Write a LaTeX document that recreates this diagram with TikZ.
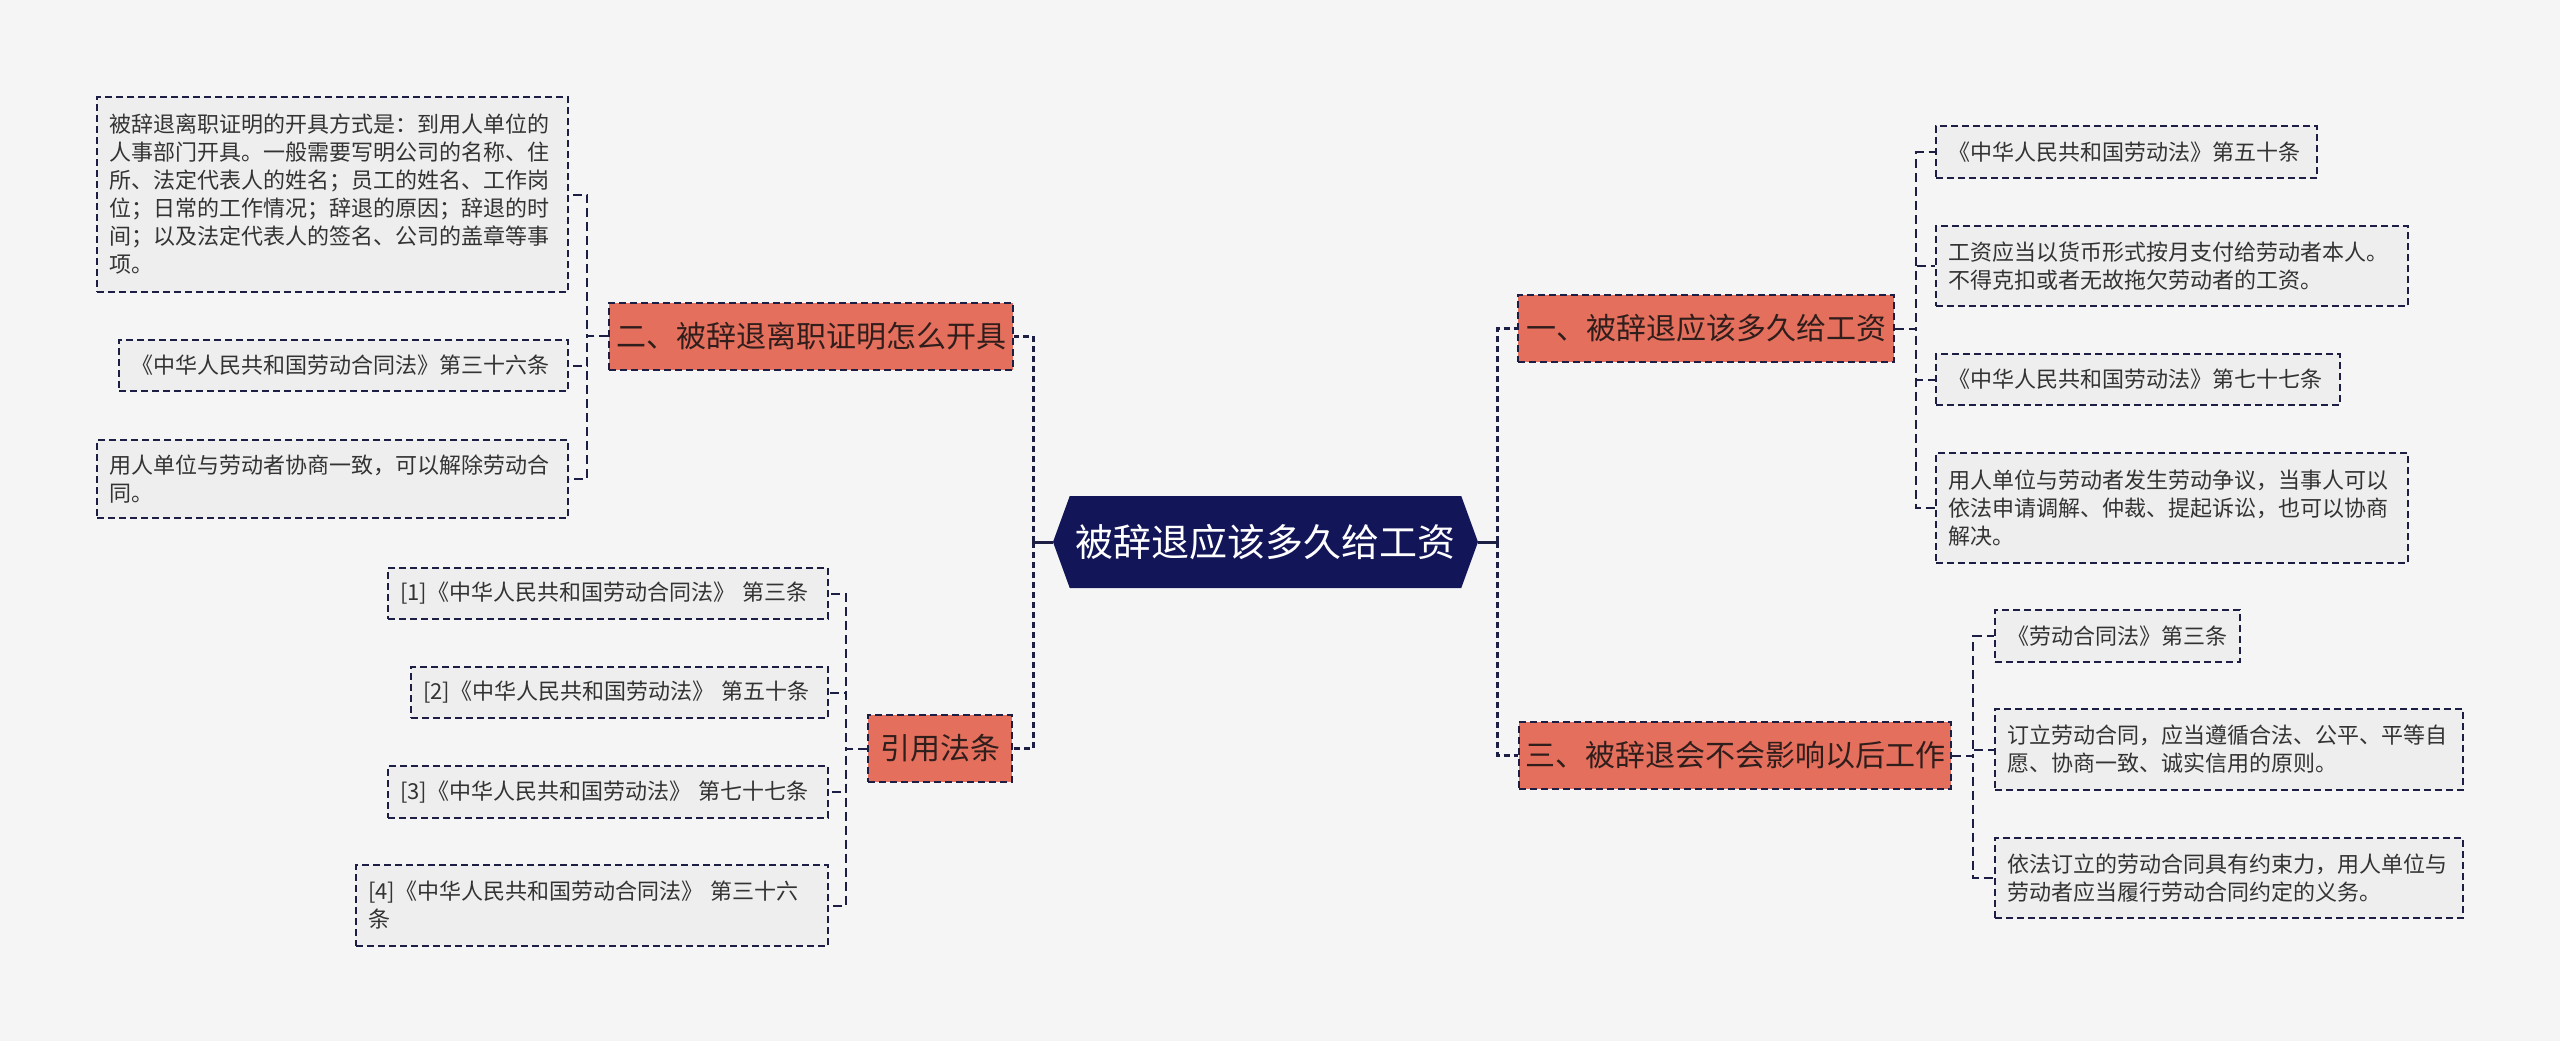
\documentclass[tikz,border=0pt]{standalone}
\usepackage{fontspec}
\newfontfamily\cjk{Noto Sans CJK SC}
\usetikzlibrary{shapes.symbols}
\definecolor{bgcol}{RGB}{245,245,245}
\definecolor{navy}{RGB}{18,22,88}
\definecolor{wire}{RGB}{28,30,68}
\definecolor{salmon}{HTML}{E46F5C}
\definecolor{leaffill}{RGB}{238,238,238}
\definecolor{ink}{RGB}{51,51,51}
\definecolor{topicink}{RGB}{48,30,28}

\begin{document}
\begin{tikzpicture}[x=1pt,y=-1pt]
  \tikzstyle{hub}=[signal, signal to=west and east, signal pointer angle=140, fill=navy, text=white, font=\cjk\fontsize{38}{44}\selectfont, minimum width=425pt, minimum height=92pt, inner sep=0pt]
  \tikzstyle{topic}=[draw=wire, line width=2pt, dash pattern=on 7pt off 4pt, fill=salmon, text=topicink, font=\cjk\fontsize{30}{36}\selectfont, minimum height=67pt, inner xsep=0pt]
  \tikzstyle{leaf}=[draw=wire, line width=2pt, dash pattern=on 7pt off 4pt, fill=leaffill, text=ink, font=\cjk\fontsize{22}{28}\selectfont, align=left, inner xsep=12pt, inner ysep=0pt, anchor=north west]
  \tikzstyle{trunk}=[draw=wire, line width=3pt, dash pattern=on 6pt off 4pt]
  \tikzstyle{twig}=[draw=wire, line width=2pt, dash pattern=on 9pt off 5pt]
  \tikzstyle{forkl}=[to path={-- ++(-21,0) |- (\tikztotarget)}]
  \tikzstyle{forkr}=[to path={-- ++(21,0) |- (\tikztotarget)}]

  \fill[bgcol] (0,0) rectangle (2560,1041);
  \useasboundingbox (0,0) rectangle (2560,1041);

  % centre and topics
  \node[hub] (root) at (1265.5,542) {被辞退应该多久给工资};
  \node[topic, minimum width=404pt] (two) at (811,336) {二、被辞退离职证明怎么开具};
  \node[topic, minimum width=144pt] (cite) at (940,748.5) {引用法条};
  \node[topic, minimum width=376pt] (one) at (1706,328.5) {一、被辞退应该多久给工资};
  \node[topic, minimum width=432pt] (three) at (1735,755.5) {三、被辞退会不会影响以后工作};

  % left leaves
  \node[leaf, text width=447pt, minimum height=195pt] (a1) at (96,96) {被辞退离职证明的开具方式是：到用人单位的\\人事部门开具。一般需要写明公司的名称、住\\所、法定代表人的姓名；员工的姓名、工作岗\\位；日常的工作情况；辞退的原因；辞退的时\\间；以及法定代表人的签名、公司的盖章等事\\项。};
  \node[leaf, text width=425pt, minimum height=51pt] (a2) at (118,339) {《中华人民共和国劳动合同法》第三十六条};
  \node[leaf, text width=447pt, minimum height=78pt] (a3) at (96,439) {用人单位与劳动者协商一致，可以解除劳动合\\同。};
  \node[leaf, text width=416pt, minimum height=51pt] (c1) at (387,567) {[1]《中华人民共和国劳动合同法》 第三条};
  \node[leaf, text width=393pt, minimum height=51pt] (c2) at (410,666) {[2]《中华人民共和国劳动法》 第五十条};
  \node[leaf, text width=416pt, minimum height=52pt] (c3) at (387,765) {[3]《中华人民共和国劳动法》 第七十七条};
  \node[leaf, text width=448pt, minimum height=81pt] (c4) at (355,864) {[4]《中华人民共和国劳动合同法》 第三十六\\条};

  % right leaves
  \node[leaf, text width=357pt, minimum height=52pt] (b1) at (1935,125) {《中华人民共和国劳动法》第五十条};
  \node[leaf, text width=448pt, minimum height=80pt] (b2) at (1935,225) {工资应当以货币形式按月支付给劳动者本人。\\不得克扣或者无故拖欠劳动者的工资。};
  \node[leaf, text width=380pt, minimum height=51pt] (b3) at (1935,353) {《中华人民共和国劳动法》第七十七条};
  \node[leaf, text width=448pt, minimum height=110pt] (b4) at (1935,452) {用人单位与劳动者发生劳动争议，当事人可以\\依法申请调解、仲裁、提起诉讼，也可以协商\\解决。};
  \node[leaf, text width=221pt, minimum height=52pt] (d1) at (1994,609) {《劳动合同法》第三条};
  \node[leaf, text width=444pt, minimum height=81pt] (d2) at (1994,708) {订立劳动合同，应当遵循合法、公平、平等自\\愿、协商一致、诚实信用的原则。};
  \node[leaf, text width=444pt, minimum height=80pt] (d3) at (1994,837) {依法订立的劳动合同具有约束力，用人单位与\\劳动者应当履行劳动合同约定的义务。};

  \coordinate (lj) at (1033,542);
  \coordinate (rj) at (1497,542);
  \draw[wire, line width=3pt] (root.west) -- (lj);
  \draw[wire, line width=3pt] (root.east) -- (rj);
  \path[trunk]
    (lj) edge[to path={|- (\tikztotarget)}] (two.east)
    (lj) edge[to path={|- (\tikztotarget)}] (cite.east)
    (rj) edge[to path={|- (\tikztotarget)}] (one.west)
    (rj) edge[to path={|- (\tikztotarget)}] (three.west);
  \path[twig]
    (two.west) edge[forkl] (a1.east)
    (two.west) edge[forkl] (a2.east)
    (two.west) edge[forkl] (a3.east)
    (cite.west) edge[forkl] (c1.east)
    (cite.west) edge[forkl] (c2.east)
    (cite.west) edge[forkl] (c3.east)
    (cite.west) edge[forkl] (c4.east)
    (one.east) edge[forkr] (b1.west)
    (one.east) edge[forkr] (b2.west)
    (one.east) edge[forkr] (b3.west)
    (one.east) edge[forkr] (b4.west)
    (three.east) edge[forkr] (d1.west)
    (three.east) edge[forkr] (d2.west)
    (three.east) edge[forkr] (d3.west);
\end{tikzpicture}
\end{document}
